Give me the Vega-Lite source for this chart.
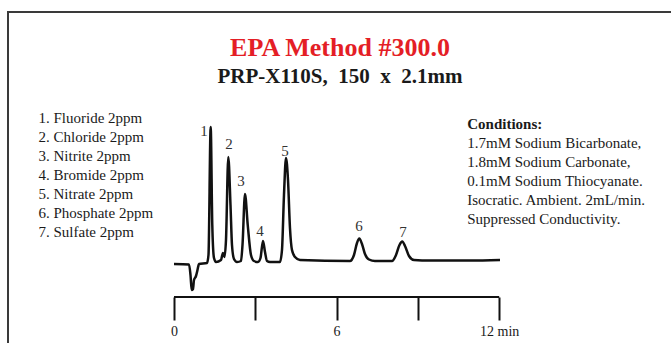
{
  "$schema": "https://vega.github.io/schema/vega-lite/v6.json",
  "width": 680,
  "height": 340,
  "autosize": {"type": "none"},
  "padding": {"left": 8, "top": 12, "right": 0, "bottom": 0},
  "background": "white",
  "view": {"stroke": "#3a3a3a", "strokeWidth": 2},
  "title": {
    "text": "EPA Method #300.0",
    "subtitle": "PRP-X110S,\u00a0\u00a0150\u00a0\u00a0x\u00a0\u00a02.1mm",
    "orient": "top",
    "anchor": "middle",
    "offset": -75,
    "dx": -8,
    "font": "Liberation Serif",
    "fontSize": 26,
    "fontWeight": "bold",
    "color": "#e41e26",
    "subtitleFont": "Liberation Serif",
    "subtitleFontSize": 21,
    "subtitleFontWeight": "bold",
    "subtitleColor": "#1a1a1a",
    "subtitlePadding": 5
  },
  "datasets": {
    "trace": [
      {"t": 0, "signal": 0},
      {"t": 0.554, "signal": -0.5},
      {"t": 0.609, "signal": -11},
      {"t": 0.653, "signal": -26},
      {"t": 0.701, "signal": -25},
      {"t": 0.738, "signal": -16},
      {"t": 0.812, "signal": -12},
      {"t": 0.867, "signal": -6},
      {"t": 0.923, "signal": 0},
      {"t": 1.218, "signal": 1},
      {"t": 1.273, "signal": 9},
      {"t": 1.354, "signal": 137},
      {"t": 1.413, "signal": 39},
      {"t": 1.476, "signal": 6},
      {"t": 1.55, "signal": 2},
      {"t": 1.734, "signal": 4},
      {"t": 1.808, "signal": 11},
      {"t": 1.863, "signal": 7},
      {"t": 1.919, "signal": 24},
      {"t": 2.004, "signal": 107},
      {"t": 2.085, "signal": 59},
      {"t": 2.14, "signal": 19},
      {"t": 2.214, "signal": 5},
      {"t": 2.325, "signal": 2},
      {"t": 2.472, "signal": 3},
      {"t": 2.528, "signal": 19},
      {"t": 2.62, "signal": 70},
      {"t": 2.721, "signal": 39},
      {"t": 2.841, "signal": 9},
      {"t": 2.95, "signal": 3},
      {"t": 3.1, "signal": 2},
      {"t": 3.192, "signal": 6},
      {"t": 3.284, "signal": 23},
      {"t": 3.358, "signal": 12},
      {"t": 3.432, "signal": 3},
      {"t": 3.542, "signal": 2},
      {"t": 3.911, "signal": 2},
      {"t": 3.985, "signal": 14},
      {"t": 4.059, "signal": 69},
      {"t": 4.133, "signal": 106},
      {"t": 4.207, "signal": 84},
      {"t": 4.28, "signal": 36},
      {"t": 4.354, "signal": 14},
      {"t": 4.465, "signal": 7},
      {"t": 4.649, "signal": 4},
      {"t": 6.494, "signal": 3},
      {"t": 6.642, "signal": 9},
      {"t": 6.753, "signal": 21},
      {"t": 6.838, "signal": 25.5},
      {"t": 6.937, "signal": 20},
      {"t": 7.048, "signal": 10},
      {"t": 7.196, "signal": 4.5},
      {"t": 7.417, "signal": 3},
      {"t": 8.044, "signal": 3},
      {"t": 8.192, "signal": 9},
      {"t": 8.321, "signal": 19},
      {"t": 8.424, "signal": 22.5},
      {"t": 8.524, "signal": 18},
      {"t": 8.672, "signal": 8},
      {"t": 8.856, "signal": 4},
      {"t": 9.446, "signal": 3.5},
      {"t": 10.923, "signal": 3.5},
      {"t": 12.03, "signal": 4}
    ],
    "peaks": [
      {"peak": "1", "t": 1.107, "signal": 133},
      {"peak": "2", "t": 2.03, "signal": 120},
      {"peak": "3", "t": 2.472, "signal": 83},
      {"peak": "4", "t": 3.173, "signal": 33},
      {"peak": "5", "t": 4.096, "signal": 113},
      {"peak": "6", "t": 6.827, "signal": 38},
      {"peak": "7", "t": 8.45, "signal": 32}
    ],
    "axisline": [{"start": 0, "end": 12}],
    "compounds": [
      {"lines": ["1. Fluoride 2ppm", "2. Chloride 2ppm", "3. Nitrite 2ppm", "4. Bromide 2ppm", "5. Nitrate 2ppm", "6. Phosphate 2ppm", "7. Sulfate 2ppm"]}
    ],
    "conditionsHead": [{"head": "Conditions:"}],
    "conditions": [
      {"lines": ["1.7mM Sodium Bicarbonate,", "1.8mM Sodium Carbonate,", "0.1mM Sodium Thiocyanate.", "Isocratic. Ambient. 2mL/min.", "Suppressed Conductivity."]}
    ]
  },
  "layer": [
    {
      "data": {"name": "trace"},
      "mark": {"type": "line", "interpolate": "monotone", "strokeWidth": 2.5, "color": "#111111", "strokeJoin": "round"},
      "encoding": {
        "x": {
          "field": "t",
          "type": "quantitative",
          "scale": {"domain": [-6.125, 18.967], "nice": false, "zero": false},
          "axis": {
            "values": [0, 3, 6, 9, 12],
            "offset": -55,
            "domain": false,
            "grid": false,
            "ticks": true,
            "tickSize": 23,
            "tickWidth": 2,
            "tickColor": "#111111",
            "labelExpr": "datum.value === 0 ? '0' : datum.value === 6 ? '6' : datum.value === 12 ? '12 min' : ''",
            "labelFont": "Liberation Serif",
            "labelFontSize": 14,
            "labelColor": "#1a1a1a",
            "labelPadding": 4,
            "labelDx": 5,
            "labelOverlap": false,
            "labelFlush": false,
            "title": null
          }
        },
        "y": {
          "field": "signal",
          "type": "quantitative",
          "scale": {"domain": [-88, 252], "nice": false, "zero": false},
          "axis": null
        }
      }
    },
    {
      "data": {"name": "axisline"},
      "mark": {"type": "rule", "strokeWidth": 2, "color": "#111111"},
      "encoding": {
        "x": {"field": "start", "type": "quantitative"},
        "x2": {"field": "end"},
        "y": {"datum": -33, "type": "quantitative"}
      }
    },
    {
      "data": {"name": "peaks"},
      "mark": {"type": "text", "font": "Liberation Serif", "fontSize": 15, "color": "#333333", "baseline": "middle", "align": "center"},
      "encoding": {
        "x": {"field": "t", "type": "quantitative"},
        "y": {"field": "signal", "type": "quantitative"},
        "text": {"field": "peak"}
      }
    },
    {
      "data": {"name": "compounds"},
      "mark": {"type": "text", "font": "Liberation Serif", "fontSize": 15, "color": "#1a1a1a", "baseline": "alphabetic", "align": "left", "lineHeight": 19},
      "encoding": {
        "x": {"datum": -5.0, "type": "quantitative"},
        "y": {"datum": 140.7, "type": "quantitative"},
        "text": {"field": "lines"}
      }
    },
    {
      "data": {"name": "conditionsHead"},
      "mark": {"type": "text", "font": "Liberation Serif", "fontSize": 15, "fontWeight": "bold", "color": "#1a1a1a", "baseline": "alphabetic", "align": "left"},
      "encoding": {
        "x": {"datum": 10.82, "type": "quantitative"},
        "y": {"datum": 134.7, "type": "quantitative"},
        "text": {"field": "head"}
      }
    },
    {
      "data": {"name": "conditions"},
      "mark": {"type": "text", "font": "Liberation Serif", "fontSize": 15, "color": "#1a1a1a", "baseline": "alphabetic", "align": "left", "lineHeight": 19},
      "encoding": {
        "x": {"datum": 10.82, "type": "quantitative"},
        "y": {"datum": 115.6, "type": "quantitative"},
        "text": {"field": "lines"}
      }
    }
  ]
}
